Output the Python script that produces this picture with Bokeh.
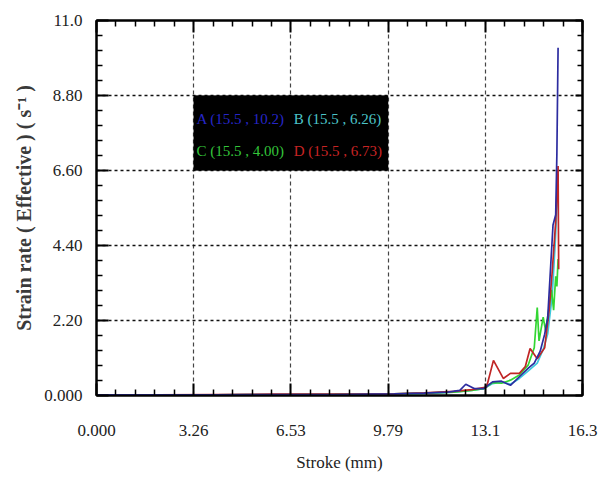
from bokeh.plotting import figure
from bokeh.models import FixedTicker, LinearAxis, Range1d, BoxAnnotation, Label
from bokeh.embed import file_html
from bokeh.resources import INLINE

# Effective strain rate vs. stroke for four sampling points A-D
x_ticks = [0.0, 3.264, 6.528, 9.792, 13.056, 16.32]
x_tick_labels = ["0.000", "3.26", "6.53", "9.79", "13.1", "16.3"]
y_ticks = [0.0, 2.2, 4.4, 6.6, 8.8, 11.0]
y_tick_labels = ["0.000", "2.20", "4.40", "6.60", "8.80", "11.0"]

stroke_a = [0.0, 2.0, 4.0, 5.0, 6.0, 8.0, 10.0, 11.0, 11.8, 12.2, 12.4, 12.7, 13.0, 13.3, 13.6, 13.9,
            14.2, 14.5, 14.7, 14.9, 15.05, 15.15, 15.33, 15.42, 15.46, 15.5]
rate_a = [0.02, 0.02, 0.02, 0.03, 0.03, 0.03, 0.05, 0.07, 0.1, 0.15, 0.33, 0.2, 0.2, 0.4, 0.42, 0.3,
          0.55, 0.8, 0.95, 1.3, 1.8, 2.26, 5.0, 5.3, 7.1, 10.2]

stroke_b = [0.0, 2.0, 4.0, 6.0, 8.0, 10.0, 11.0, 12.0, 12.6, 13.0, 13.3, 13.6, 13.9, 14.2, 14.5,
            14.8, 15.0, 15.15, 15.3, 15.4, 15.45, 15.5]
rate_b = [0.01, 0.01, 0.02, 0.02, 0.03, 0.04, 0.06, 0.1, 0.15, 0.2, 0.35, 0.4, 0.33, 0.5, 0.72,
          0.95, 1.35, 1.8, 2.9, 4.4, 5.3, 6.26]

stroke_c = [0.0, 2.0, 4.0, 5.1, 5.9, 8.0, 10.0, 11.0, 12.0, 12.6, 13.0, 13.3, 13.6, 13.9, 14.2,
            14.5, 14.7, 14.8, 14.86, 15.0, 15.08, 15.2, 15.28, 15.35, 15.42, 15.46, 15.5]
rate_c = [0.01, 0.01, 0.02, 0.03, 0.03, 0.04, 0.05, 0.07, 0.1, 0.15, 0.2, 0.38, 0.36, 0.45, 0.6,
          0.9, 1.4, 2.58, 1.6, 2.3, 1.9, 2.6, 3.1, 2.5, 3.5, 3.2, 4.0]

stroke_d = [0.0, 2.0, 4.0, 5.9, 8.0, 10.0, 11.0, 12.0, 12.6, 13.1, 13.33, 13.66, 13.9, 14.2, 14.4,
            14.56, 14.8, 15.05, 15.2, 15.3, 15.42, 15.5, 15.52]
rate_d = [0.02, 0.02, 0.03, 0.04, 0.04, 0.05, 0.08, 0.12, 0.17, 0.25, 1.03, 0.5, 0.65, 0.65, 0.85,
          1.38, 1.08, 1.4, 2.5, 3.6, 5.1, 6.73, 3.7]

point_labels = ["A (15.5 , 10.2)", "B (15.5 , 6.26)", "C (15.5 , 4.00)", "D (15.5 , 6.73)"]
label_colors = ["#2626c8", "#4cc4c8", "#33c43a", "#c82424"]
line_colors = ["#2c2ca0", "#3cc8dc", "#33d633", "#c02626"]

FONT = "Liberation Serif"

p = figure(width=603, height=482, x_range=Range1d(0, 16.32), y_range=Range1d(0, 11),
           output_backend="svg", toolbar_location=None,
           min_border_left=96, min_border_right=21, min_border_top=20, min_border_bottom=87,
           x_axis_label="Stroke (mm)", y_axis_label="Strain rate ( Effective ) ( s\u207b\u00b9 )")

p.outline_line_color = "black"
p.outline_line_width = 2
p.background_fill_color = "white"
p.border_fill_color = "white"


def minor_of(ticks, n=5):
    out = []
    for a, b in zip(ticks[:-1], ticks[1:]):
        step = (b - a) / n
        out += [a + step * k for k in range(1, n)]
    return out


xt = FixedTicker(ticks=x_ticks, minor_ticks=minor_of(x_ticks))
yt = FixedTicker(ticks=y_ticks, minor_ticks=minor_of(y_ticks))


def style_axis(ax, ticker, labels, show_labels=True):
    ax.ticker = ticker
    ax.axis_line_color = "black"
    ax.axis_line_width = 2
    ax.major_tick_in = 12
    ax.major_tick_out = 0
    ax.minor_tick_in = 6
    ax.minor_tick_out = 0
    ax.major_tick_line_color = "black"
    ax.major_tick_line_width = 2
    ax.minor_tick_line_color = "black"
    ax.minor_tick_line_width = 1.5
    if show_labels:
        ax.major_label_overrides = {t: s for t, s in zip(ticker.ticks, labels)}
        ax.major_label_text_font = FONT
        ax.major_label_text_font_size = "17px"
        ax.major_label_text_color = "#222222"
    else:
        ax.major_label_text_font_size = "0px"
        ax.major_label_text_alpha = 0


style_axis(p.xaxis[0], xt, x_tick_labels)
style_axis(p.yaxis[0], yt, y_tick_labels)
p.xaxis[0].major_label_standoff = 29
p.yaxis[0].major_label_standoff = 14
p.xaxis[0].axis_label_text_font = FONT
p.xaxis[0].axis_label_text_font_size = "17px"
p.xaxis[0].axis_label_text_font_style = "normal"
p.xaxis[0].axis_label_text_color = "#222222"
p.xaxis[0].axis_label_standoff = 14
p.yaxis[0].axis_label_text_font = FONT
p.yaxis[0].axis_label_text_font_size = "20px"
p.yaxis[0].axis_label_text_font_style = "bold"
p.yaxis[0].axis_label_text_color = "#3a3a3a"
p.yaxis[0].axis_label_standoff = 6

top_ax = LinearAxis()
style_axis(top_ax, xt, x_tick_labels, show_labels=False)
p.add_layout(top_ax, "above")
right_ax = LinearAxis()
style_axis(right_ax, yt, y_tick_labels, show_labels=False)
right_ax.major_tick_in = 7
right_ax.minor_tick_in = 5
p.add_layout(right_ax, "right")

p.xgrid.ticker = xt
p.ygrid.ticker = yt
p.xgrid.grid_line_color = "#444444"
p.xgrid.grid_line_dash = "4 3"
p.xgrid.grid_line_width = 1.2
p.ygrid.grid_line_color = "#111111"
p.ygrid.grid_line_dash = "3 3"
p.ygrid.grid_line_width = 1.5

# Curves
series = [(stroke_b, rate_b, line_colors[1]), (stroke_c, rate_c, line_colors[2]),
          (stroke_d, rate_d, line_colors[3]), (stroke_a, rate_a, line_colors[0])]
for xs, ys, c in series:
    p.line(xs, ys, line_color=c, line_width=1.7)

# Peak-value key in a black box
p.add_layout(BoxAnnotation(left=x_ticks[1], right=x_ticks[3], bottom=y_ticks[3], top=y_ticks[4],
                           fill_color="black", fill_alpha=1.0, line_color="black", level="annotation"))
label_pos = [(3.36, 8.12), (6.62, 8.12), (3.36, 7.18), (6.62, 7.18)]
for (lx, ly), txt, c in zip(label_pos, point_labels, label_colors):
    p.add_layout(Label(x=lx, y=ly, text=txt, text_color=c, text_font=FONT,
                       text_font_size="15px", text_baseline="middle"))

open("out.html", "w").write(file_html(p, INLINE))
